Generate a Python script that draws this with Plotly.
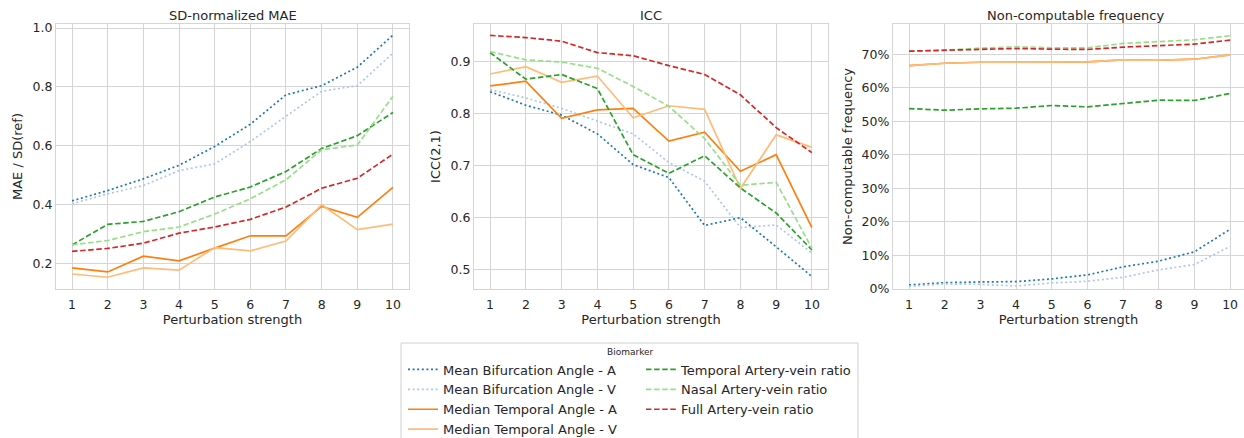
import plotly.graph_objects as go

x = [1, 2, 3, 4, 5, 6, 7, 8, 9, 10]

names = [
    "Mean Bifurcation Angle - A",
    "Mean Bifurcation Angle - V",
    "Median Temporal Angle - A",
    "Median Temporal Angle - V",
    "Temporal Artery-vein ratio",
    "Nasal Artery-vein ratio",
    "Full Artery-vein ratio",
]
colors = ["#1f77b4", "#aec7e8", "#ff7f0e", "#ffbb78", "#2ca02c", "#98df8a", "#d62728"]
dashes = ["2px,2.6px", "2px,2.6px", "solid", "solid", "5.5px,2.6px", "5.5px,2.6px", "5.5px,2.6px"]

# SD-normalized MAE
mae = [
    [0.412, 0.447, 0.487, 0.533, 0.597, 0.673, 0.773, 0.804, 0.867, 0.976],
    [0.402, 0.436, 0.464, 0.515, 0.538, 0.614, 0.700, 0.785, 0.804, 0.915],
    [0.184, 0.170, 0.224, 0.208, 0.251, 0.293, 0.293, 0.393, 0.356, 0.458],
    [0.163, 0.152, 0.184, 0.176, 0.253, 0.242, 0.275, 0.399, 0.314, 0.333],
    [0.262, 0.332, 0.342, 0.375, 0.425, 0.459, 0.512, 0.590, 0.634, 0.713],
    [0.262, 0.277, 0.307, 0.323, 0.367, 0.419, 0.484, 0.586, 0.602, 0.768],
    [0.240, 0.250, 0.268, 0.302, 0.323, 0.349, 0.391, 0.455, 0.489, 0.571],
]

# ICC(2,1)
icc = [
    [0.842, 0.816, 0.797, 0.761, 0.702, 0.677, 0.585, 0.600, 0.544, 0.487],
    [0.846, 0.830, 0.810, 0.786, 0.761, 0.706, 0.670, 0.581, 0.586, 0.532],
    [0.853, 0.862, 0.791, 0.807, 0.810, 0.747, 0.764, 0.689, 0.721, 0.581],
    [0.876, 0.890, 0.860, 0.872, 0.792, 0.815, 0.808, 0.656, 0.759, 0.735],
    [0.917, 0.866, 0.875, 0.848, 0.721, 0.685, 0.719, 0.657, 0.609, 0.538],
    [0.919, 0.903, 0.899, 0.887, 0.852, 0.814, 0.752, 0.662, 0.668, 0.541],
    [0.950, 0.946, 0.939, 0.917, 0.911, 0.892, 0.875, 0.836, 0.773, 0.725],
]

# Non-computable frequency (fraction)
noncomp = [
    [0.012, 0.019, 0.021, 0.022, 0.030, 0.042, 0.066, 0.083, 0.111, 0.178],
    [0.008, 0.015, 0.014, 0.009, 0.018, 0.023, 0.035, 0.057, 0.073, 0.127],
    [0.666, 0.673, 0.676, 0.677, 0.678, 0.677, 0.683, 0.682, 0.685, 0.698],
    [0.666, 0.673, 0.676, 0.677, 0.678, 0.677, 0.683, 0.682, 0.685, 0.698],
    [0.538, 0.533, 0.537, 0.539, 0.547, 0.543, 0.553, 0.563, 0.562, 0.583],
    [0.709, 0.712, 0.718, 0.722, 0.719, 0.719, 0.732, 0.737, 0.743, 0.755],
    [0.709, 0.712, 0.715, 0.717, 0.715, 0.714, 0.721, 0.725, 0.730, 0.742],
]

panel_titles = ["SD-normalized MAE", "ICC", "Non-computable frequency"]
y_titles = ["MAE / SD(ref)", "ICC(2,1)", "Non-computable frequency"]

FONT = "DejaVu Sans"
TXT = "#262626"
GRID = "#d5d5d5"
W, H = 1244, 438

fig = go.Figure()

datasets = [mae, icc, noncomp]
for p, data in enumerate(datasets):
    xa = "x" if p == 0 else f"x{p+1}"
    ya = "y" if p == 0 else f"y{p+1}"
    for i, name in enumerate(names):
        fig.add_trace(go.Scatter(
            x=x, y=data[i], mode="lines", name=name,
            line=dict(color=colors[i], width=1.7, dash=dashes[i]),
            xaxis=xa, yaxis=ya,
            showlegend=(p == 0),
            legend="legend" if i < 4 else "legend2",
        ))

xdomains = [[56 / W, 409 / W], [474 / W, 828 / W], [893 / W, 1.0]]
ydom = [1 - 289 / H, 1 - 24 / H]
xranges = [[0.55, 10.45], [0.55, 10.45], [0.55, 10.39]]
yranges = [[0.112, 1.014], [0.463, 0.972], [0.0, 0.79]]
ytick = [
    dict(tickvals=[0.2, 0.4, 0.6, 0.8, 1.0], ticktext=["0.2", "0.4", "0.6", "0.8", "1.0"]),
    dict(tickvals=[0.5, 0.6, 0.7, 0.8, 0.9], ticktext=["0.5", "0.6", "0.7", "0.8", "0.9"]),
    dict(tickvals=[0, 0.1, 0.2, 0.3, 0.4, 0.5, 0.6, 0.7],
         ticktext=["0%", "10%", "20%", "30%", "40%", "50%", "60%", "70%"]),
]

axis_common = dict(
    showgrid=True, gridcolor=GRID, gridwidth=1.3,
    showline=True, linecolor=GRID, linewidth=1.3, mirror=True,
    zeroline=False, ticks="",
    tickfont=dict(family=FONT, size=12.5, color=TXT),
)

layout = dict(
    width=W, height=H,
    margin=dict(l=0, r=0, t=0, b=0, autoexpand=False),
    paper_bgcolor="white", plot_bgcolor="white",
    font=dict(family=FONT, color=TXT, size=13),
)
for p in range(3):
    sfx = "" if p == 0 else str(p + 1)
    layout["xaxis" + sfx] = dict(
        axis_common, domain=xdomains[p], range=xranges[p],
        tickvals=x, ticktext=[str(v) for v in x],
        anchor="y" + sfx, ticklabelstandoff=4,
        title=dict(text="Perturbation strength", font=dict(family=FONT, size=13, color=TXT), standoff=3),
    )
    layout["yaxis" + sfx] = dict(
        axis_common, domain=ydom, range=yranges[p],
        anchor="x" + sfx,
        title=dict(text=y_titles[p], font=dict(family=FONT, size=13, color=TXT), standoff=6),
        **ytick[p],
    )

fig.update_layout(**layout)

annotations = []
for p in range(3):
    cx = (xdomains[p][0] + xdomains[p][1]) / 2
    if p == 2:
        cx = (893 + 1244 + 14) / 2 / W
    annotations.append(dict(
        text=panel_titles[p], x=cx, y=1 - 15 / H, xref="paper", yref="paper",
        xanchor="center", yanchor="middle", showarrow=False,
        font=dict(family=FONT, size=13, color=TXT),
    ))
annotations.append(dict(
    text="Biomarker", x=630 / W, y=1 - 352 / H, xref="paper", yref="paper",
    xanchor="center", yanchor="middle", showarrow=False,
    font=dict(family=FONT, size=9, color=TXT),
))
fig.update_layout(annotations=annotations)

fig.add_shape(type="rect", xref="paper", yref="paper",
              x0=401 / W, x1=858 / W, y0=-0.05, y1=1 - 343 / H,
              line=dict(color="#d0d0d0", width=1), fillcolor="rgba(0,0,0,0)")

leg_common = dict(
    orientation="v", bgcolor="rgba(0,0,0,0)", borderwidth=0,
    font=dict(family=FONT, size=13, color=TXT),
    xanchor="left", yanchor="top", tracegroupgap=0,
)
fig.update_layout(
    legend=dict(leg_common, x=403 / W, y=1 - 354.5 / H),
    legend2=dict(leg_common, x=641 / W, y=1 - 354.5 / H),
)

fig.write_html("out.html")
